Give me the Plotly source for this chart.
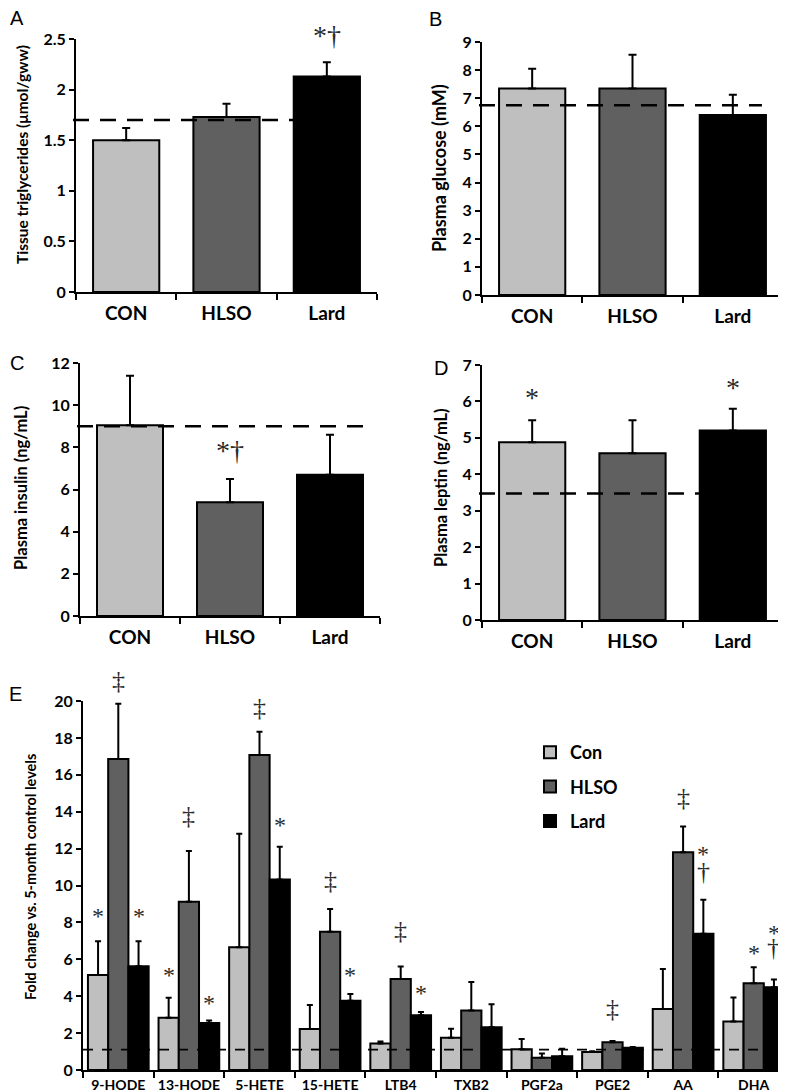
import plotly.graph_objects as go

# ---------------- data ----------------
groups = ["CON", "HLSO", "Lard"]
bar_colors = ["#bfbfbf", "#606060", "#000000"]

tg_mean = [1.50, 1.73, 2.13]
tg_sem = [0.12, 0.13, 0.14]
tg_baseline = 1.70

glucose_mean = [7.35, 7.35, 6.40]
glucose_sem = [0.70, 1.20, 0.72]
glucose_baseline = 6.75

insulin_mean = [9.05, 5.40, 6.70]
insulin_sem = [2.35, 1.10, 1.90]
insulin_baseline = 9.0

leptin_mean = [4.88, 4.58, 5.20]
leptin_sem = [0.60, 0.90, 0.60]
leptin_baseline = 3.47

metabolites = ["9-HODE", "13-HODE", "5-HETE", "15-HETE", "LTB4",
               "TXB2", "PGF2a", "PGE2", "AA", "DHA"]
con_mean = [5.15, 2.83, 6.65, 2.22, 1.43, 1.75, 1.13, 0.97, 3.30, 2.63]
con_sem = [1.83, 1.08, 6.15, 1.30, 0.12, 0.49, 0.55, 0.05, 2.18, 1.30]
hlso_mean = [16.85, 9.12, 17.07, 7.50, 4.93, 3.22, 0.67, 1.51, 11.80, 4.70]
hlso_sem = [3.00, 2.75, 1.27, 1.22, 0.68, 1.55, 0.23, 0.06, 1.40, 0.87]
lard_mean = [5.62, 2.55, 10.33, 3.75, 2.97, 2.32, 0.75, 1.20, 7.38, 4.48]
lard_sem = [1.36, 0.13, 1.77, 0.37, 0.18, 1.25, 0.40, 0.04, 1.85, 0.42]
fold_baseline = 1.1
legend_names = ["Con", "HLSO", "Lard"]

# significance marks: (panel, group, symbol, y value of glyph centre)
sig_abcd = [
    ("A", "Lard", "*†", 2.45),
    ("C", "HLSO", "*†", 7.45),
    ("D", "CON", "*", 5.93),
    ("D", "Lard", "*", 6.20),
]
sig_e = [
    ("9-HODE", "Con", "*", 8.06), ("9-HODE", "HLSO", "‡", 20.6), ("9-HODE", "Lard", "*", 8.06),
    ("13-HODE", "Con", "*", 4.87), ("13-HODE", "HLSO", "‡", 13.29), ("13-HODE", "Lard", "*", 3.37),
    ("5-HETE", "HLSO", "‡", 19.15), ("5-HETE", "Lard", "*", 13.02),
    ("15-HETE", "HLSO", "‡", 9.77), ("15-HETE", "Lard", "*", 4.87),
    ("LTB4", "HLSO", "‡", 7.07), ("LTB4", "Lard", "*", 3.9),
    ("PGE2", "HLSO", "‡", 2.83),
    ("AA", "HLSO", "‡", 14.28), ("AA", "Lard", "*", 11.4), ("AA", "Lard", "†", 10.28),
    ("DHA", "HLSO", "*", 6.08), ("DHA", "Lard", "*", 7.16), ("DHA", "Lard", "†", 6.13),
]

# ---------------- layout helpers ----------------
W, H = 786, 1092
SANS = "Lato"
SERIF = "Liberation Serif"
MARK_COLOR = "#2a2a2a"


def fx(p):
    return p / W


def fy(p):
    return 1 - p / H


def glyph_shift(sym, size):
    if sym == "*":
        return 0.22 * size
    if sym == "*†":
        return 0.3 * size
    return 0.35 * size


# panel: (axis suffix, x0, x1, ytop, ybot, yrange, dtick, title, title size, title_x, title_yc, baseline x1)
panels = {
    "A": ("", 68, 369, 31, 284, [0, 2.5], 0.5, "Tissue triglycerides (μmol/gww)", 15.5, 14, 147, 0.93),
    "B": ("2", 474, 775, 34, 287, [0, 9], 1, "Plasma glucose (mM)", 18, 431, 160, 0.93),
    "C": ("3", 72, 372, 355, 608, [0, 12], 2, "Plasma insulin (ng/mL)", 16.5, 13, 480, 0.96),
    "D": ("4", 474, 775, 357, 612, [0, 7], 1, "Plasma leptin (ng/mL)", 16.5, 433, 480, 0.93),
}
panel_data = {
    "A": (tg_mean, tg_sem, tg_baseline),
    "B": (glucose_mean, glucose_sem, glucose_baseline),
    "C": (insulin_mean, insulin_sem, insulin_baseline),
    "D": (leptin_mean, leptin_sem, leptin_baseline),
}
letter_pos = {"A": (9, 10), "B": (427, 11), "C": (9, 355), "D": (433, 360), "E": (7, 686)}

fig = go.Figure()
annotations = []
shapes = []

axis_common = dict(showline=True, linewidth=2, linecolor="black", showgrid=False,
                   zeroline=False, automargin=False, fixedrange=True)

for key, (suf, x0, x1, yt, yb, yr, dt, title, tsize, tx, tyc, bx1) in panels.items():
    mean, sem, base = panel_data[key]
    xa = "x" + suf
    ya = "y" + suf
    fig.add_trace(go.Bar(
        x=groups, y=mean, width=0.66,
        marker=dict(color=bar_colors, line=dict(color="black", width=2)),
        error_y=dict(type="data", symmetric=False, array=sem, arrayminus=[0] * len(sem),
                     color="black", thickness=2, width=4),
        xaxis=xa, yaxis=ya, showlegend=False,
    ))
    fig.update_layout(**{
        "xaxis" + suf: dict(axis_common, domain=[fx(x0), fx(x1)], anchor=ya,
                            type="category", tickson="boundaries", ticks="outside",
                            ticklen=6, tickwidth=2, tickcolor="black", tickangle=0,
                            ticklabelstandoff=3,
                            tickfont=dict(family=SANS, size=19, color="black", weight="bold")),
        "yaxis" + suf: dict(axis_common, domain=[fy(yb), fy(yt)], anchor=xa, range=yr,
                            dtick=dt, ticks="outside", ticklen=5, tickwidth=2,
                            tickcolor="black",
                            tickfont=dict(family=SANS, size=16, color="black", weight="bold")),
    })
    shapes.append(dict(type="line", xref=xa + " domain", yref=ya, x0=-0.01, x1=bx1,
                       y0=base, y1=base, line=dict(color="black", width=2.5, dash="16px,11px")))
    annotations.append(dict(text=title, textangle=-90, xref="paper", yref="paper",
                            x=fx(tx), y=fy(tyc), showarrow=False, xanchor="center",
                            yanchor="middle",
                            font=dict(family=SANS, size=tsize, color="black", weight="bold")))

for key, grp, sym, yv in sig_abcd:
    suf = panels[key][0]
    size = 28
    annotations.append(dict(text=sym, xref="x" + suf, yref="y" + suf, x=grp, y=yv,
                            showarrow=False, xanchor="center", yanchor="middle",
                            yshift=glyph_shift(sym, size),
                            font=dict(family=SERIF, size=size, color=MARK_COLOR)))

# ---------------- panel E ----------------
e_x0, e_x1, e_yt, e_yb = 75, 781, 693, 1062
e_range = [0, 20]
e_means = [con_mean, hlso_mean, lard_mean]
e_sems = [con_sem, hlso_sem, lard_sem]
for name, color, mean, sem in zip(legend_names, bar_colors, e_means, e_sems):
    fig.add_trace(go.Bar(
        x=metabolites, y=mean, name=name, legendgroup=name,
        marker=dict(color=color, line=dict(color="black", width=2)),
        error_y=dict(type="data", symmetric=False, array=sem, arrayminus=[0] * len(sem),
                     color="black", thickness=2, width=3),
        xaxis="x5", yaxis="y5", showlegend=True,
    ))

fig.update_layout(
    xaxis5=dict(axis_common, domain=[fx(e_x0), fx(e_x1)], anchor="y5", type="category",
                tickson="boundaries", ticks="outside", ticklen=6, tickwidth=2,
                tickcolor="black", ticklabelstandoff=1, tickangle=0,
                tickfont=dict(family=SANS, size=14, color="black", weight="bold")),
    yaxis5=dict(axis_common, domain=[fy(e_yb), fy(e_yt)], anchor="x5", range=e_range,
                dtick=2, ticks="outside", ticklen=5, tickwidth=2, tickcolor="black",
                tickfont=dict(family=SANS, size=16, color="black", weight="bold")),
)
shapes.append(dict(type="line", xref="x5 domain", yref="y5", x0=0, x1=1.01,
                   y0=fold_baseline, y1=fold_baseline,
                   line=dict(color="black", width=1.8, dash="10px,9px")))
annotations.append(dict(text="Fold change vs. 5-month control levels", textangle=-90,
                        xref="paper", yref="paper", x=fx(22), y=fy(869), showarrow=False,
                        xanchor="center", yanchor="middle",
                        font=dict(family=SANS, size=14.5, color="black", weight="bold")))

bargap = 0.14
bw = (1 - bargap) / 3
offsets = {"Con": -bw, "HLSO": 0.0, "Lard": bw}
for cat, grp, sym, yv in sig_e:
    size = 24 if sym == "*" else 26
    annotations.append(dict(text=sym, xref="x5", yref="y5 domain",
                            x=metabolites.index(cat) + offsets[grp],
                            y=(yv - e_range[0]) / (e_range[1] - e_range[0]),
                            showarrow=False, xanchor="center", yanchor="middle",
                            yshift=glyph_shift(sym, size),
                            font=dict(family=SERIF, size=size, color=MARK_COLOR)))

for letter, (lx, ly) in letter_pos.items():
    annotations.append(dict(text=letter, xref="paper", yref="paper", x=fx(lx), y=fy(ly),
                            showarrow=False, xanchor="center", yanchor="middle",
                            font=dict(family="Liberation Sans", size=20, color="black")))

fig.update_layout(
    width=W, height=H,
    margin=dict(l=0, r=0, t=0, b=0),
    paper_bgcolor="white", plot_bgcolor="white",
    barmode="group", bargap=bargap, bargroupgap=0,
    annotations=annotations, shapes=shapes,
    legend=dict(x=fx(522), y=fy(726), xanchor="left", yanchor="top",
                bgcolor="rgba(0,0,0,0)", tracegroupgap=8, itemwidth=30,
                font=dict(family=SANS, size=18, color="black", weight="bold")),
    showlegend=True,
)

fig.write_html("out.html")
